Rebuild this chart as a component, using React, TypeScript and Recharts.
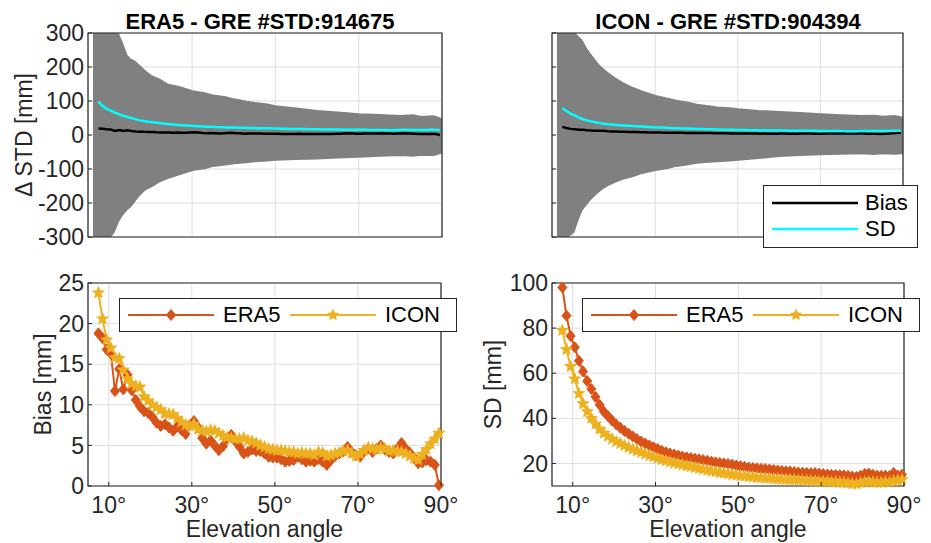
import React from "react";
import {
  ComposedChart,
  LineChart,
  Line,
  Area,
  XAxis,
  YAxis,
  CartesianGrid,
  Legend,
  ReferenceArea,
} from "recharts";

const FONT = "'Liberation Sans', Arial, Helvetica, sans-serif";
const ERA5_COLOR = "#D95319";
const ICON_COLOR = "#EDB120";
const AXIS_COLOR = "#262626";
const GRID_COLOR = "#DEDEDE";
const CLOUD_COLOR = "#808080";
const TICK_LEN = 4;

// elevation bin centres [deg]
const elevation = [
  7.5, 8.5, 9.5, 10.5, 11.5, 12.5, 13.5, 14.5, 15.5, 16.5, 17.5, 18.5, 19.5,
  20.5, 21.5, 22.5, 23.5, 24.5, 25.5, 26.5, 27.5, 28.5, 29.5, 30.5, 31.5, 32.5,
  33.5, 34.5, 35.5, 36.5, 37.5, 38.5, 39.5, 40.5, 41.5, 42.5, 43.5, 44.5, 45.5,
  46.5, 47.5, 48.5, 49.5, 50.5, 51.5, 52.5, 53.5, 54.5, 55.5, 56.5, 57.5, 58.5,
  59.5, 60.5, 61.5, 62.5, 63.5, 64.5, 65.5, 66.5, 67.5, 68.5, 69.5, 70.5, 71.5,
  72.5, 73.5, 74.5, 75.5, 76.5, 77.5, 78.5, 79.5, 80.5, 81.5, 82.5, 83.5, 84.5,
  85.5, 86.5, 87.5, 88.5, 89.5,
];

const era5Bias = [
  18.8, 18.2, 16.8, 16.3, 11.7, 14.4, 11.9, 13.7, 11.8, 10.6, 9.8, 9.2, 9.0,
  8.5, 7.8, 7.4, 7.6, 7.2, 6.8, 7.3, 6.9, 6.4, 7.5, 8.0, 7.2, 5.9,
  5.2, 5.6, 5.0, 4.4, 4.9, 5.8, 6.3, 5.5, 4.8, 4.0, 4.2, 4.5, 4.3,
  4.3, 4.0, 3.6, 3.5, 3.5, 3.3, 3.0, 3.1, 3.2, 3.6, 3.3, 3.0, 3.1,
  3.0, 3.3, 3.0, 2.6, 3.2, 3.7, 4.0, 4.3, 4.8, 4.2, 3.8, 3.6, 4.3,
  4.6, 4.2, 4.6, 5.0, 4.5, 4.2, 4.0, 4.6, 5.3, 4.6, 4.1, 3.5, 2.8,
  2.9, 3.2, 3.0, 2.6, 0.1,
];

const iconBias = [
  23.8, 20.6, 18.0, 17.0, 15.8, 15.7, 14.3, 13.2, 12.6, 12.3, 12.2, 11.0, 10.5,
  10.0, 9.7, 9.4, 8.9, 8.9, 8.8, 8.3, 7.9, 7.5, 7.4, 7.6, 7.0, 6.8,
  6.7, 6.9, 6.8, 6.5, 6.2, 6.0, 5.9, 5.8, 5.8, 5.9, 5.6, 5.5, 5.3,
  5.0, 4.8, 4.6, 4.5, 4.4, 4.4, 4.3, 4.2, 4.2, 4.0, 4.1, 4.0, 4.0,
  3.8, 4.2, 4.1, 3.7, 3.8, 4.0, 4.1, 4.3, 4.4, 4.0, 3.7, 3.9, 4.4,
  4.7, 4.6, 4.5, 4.7, 4.6, 4.3, 4.4, 4.3, 4.2, 4.0, 3.7, 3.4, 3.2,
  3.9, 4.5, 5.2, 5.8, 6.5,
];

const era5Sd = [
  98, 85.5, 76.5, 71.5, 65.5, 60.8, 56.5, 53, 49.5, 46, 43, 41, 39,
  37.3, 35.8, 34.4, 33.2, 32, 30.8, 29.7, 28.8, 28, 27.2, 26.4, 25.6, 25,
  24.4, 24, 23.5, 23.1, 22.7, 22.4, 22.1, 21.8, 21.5, 21.2, 20.8, 20.5, 20.2,
  20.0, 19.8, 19.5, 19.1, 18.8, 18.5, 18.2, 18.0, 17.8, 17.6, 17.5, 17.3, 17.1,
  16.9, 16.7, 16.5, 16.4, 16.2, 16.0, 15.9, 15.8, 15.7, 15.8, 15.5, 15.3, 15.1,
  15.0, 14.9, 14.8, 14.7, 14.5, 14.2, 14.0, 14.6, 15.3, 15.5, 15.0, 14.6, 14.5,
  14.6, 14.4, 15.8, 14.6, 15.0,
];

const iconSd = [
  79, 70.5, 63, 57.5, 51, 46.5, 43, 40, 37.5, 35.2, 33.4, 32, 30.8,
  29.7, 28.8, 27.9, 27.1, 26.3, 25.6, 24.9, 24.2, 23.5, 22.9, 22.3, 21.7, 21.2,
  20.7, 20.2, 19.8, 19.4, 19.0, 18.6, 18.2, 17.8, 17.4, 17.0, 16.6, 16.3, 16.0,
  15.7, 15.4, 15.1, 14.8, 14.6, 14.4, 14.2, 14.0, 13.8, 13.6, 13.5, 13.4, 13.2,
  13.1, 13.0, 12.9, 12.8, 12.7, 12.6, 12.5, 12.4, 12.3, 12.2, 12.1, 12.0, 11.9,
  11.8, 11.7, 11.6, 11.5, 11.3, 11.0, 10.9, 11.4, 11.8, 11.9, 11.7, 11.5, 11.6,
  11.8, 11.7, 12.2, 12.5, 12.8,
];

// outline of the single-difference point clouds (top panels)
const envElevation = [
  6.2, 8, 9, 10, 11, 12, 13, 14, 15, 16, 17, 18.5, 20, 22, 24, 27, 30, 33, 35,
  38, 40, 43, 45, 48, 50, 55, 60, 65, 70, 75, 80, 83, 85, 88, 90,
];
const era5Upper = [
  300, 300, 300, 300, 300, 296, 268, 233, 220, 214, 203, 186, 171, 161, 146, 138,
  126, 120, 113, 108, 102, 95, 91, 87, 82, 75, 68, 63, 58, 56, 53, 55, 50, 52, 43,
];
const era5Lower = [
  -300, -300, -300, -300, -283, -253, -233, -218, -208, -192, -176, -158, -149,
  -134, -124, -112, -100, -95, -88, -84, -80, -77, -74, -72, -70, -68, -66, -63,
  -61, -58, -56, -58, -55, -56, -48,
];
const iconUpper = [
  300, 300, 300, 300, 288, 276, 253, 236, 220, 205, 193, 178, 165, 150, 138, 124,
  112, 104, 98, 92, 86, 82, 78, 76, 73, 68, 65, 62, 58, 55, 53, 54, 51, 53, 48,
];
const iconLower = [
  -300, -300, -293, -283, -248, -218, -203, -188, -176, -165, -155, -144, -136,
  -126, -120, -108, -100, -94, -88, -83, -79, -76, -74, -72, -70, -65, -59, -56,
  -54, -52, -51, -53, -51, -52, -51,
];

const xTicks = [10, 30, 50, 70, 90];
const stdTicks = [-300, -200, -100, 0, 100, 200, 300];
const biasTicks = [0, 5, 10, 15, 20, 25];
const sdTicks = [20, 40, 60, 80, 100];

const lineData = elevation.map((e, i) => ({
  elev: e,
  era5Bias: era5Bias[i],
  iconBias: iconBias[i],
  era5Sd: era5Sd[i],
  iconSd: iconSd[i],
}));

const era5Cloud = envElevation.map((e, i) => ({
  elev: e,
  range: [era5Lower[i], era5Upper[i]],
}));
const iconCloud = envElevation.map((e, i) => ({
  elev: e,
  range: [iconLower[i], iconUpper[i]],
}));

const TICK_FONT = 23;
const labelStyle = {
  fill: AXIS_COLOR,
  fontSize: 23,
  fontFamily: FONT,
  textAnchor: "middle" as const,
};

// MATLAB-style inward ticks, drawn through custom tick renderers
const LeftTick = (props: any) => {
  const { x, y, payload, showLabel } = props;
  const edge = x + 4;
  return (
    <g>
      <line x1={edge} y1={y} x2={edge + TICK_LEN} y2={y} stroke={AXIS_COLOR} strokeWidth={1} />
      {showLabel && (
        <text
          x={x}
          y={y}
          dy="0.355em"
          textAnchor="end"
          fill={AXIS_COLOR}
          fontSize={TICK_FONT}
          fontFamily={FONT}
        >
          {payload.value}
        </text>
      )}
    </g>
  );
};

const RightTick = (props: any) => {
  const { x, y } = props;
  return <line x1={x} y1={y} x2={x - TICK_LEN} y2={y} stroke={AXIS_COLOR} strokeWidth={1} />;
};

const TopTick = (props: any) => {
  const { x, y } = props;
  return <line x1={x} y1={y} x2={x} y2={y + TICK_LEN} stroke={AXIS_COLOR} strokeWidth={1} />;
};

const BottomTick = (props: any) => {
  const { x, y, payload, showLabel } = props;
  const edge = y - 11;
  return (
    <g>
      <line x1={x} y1={edge} x2={x} y2={edge - TICK_LEN} stroke={AXIS_COLOR} strokeWidth={1} />
      {showLabel && (
        <text
          x={x}
          y={y}
          dy="0.71em"
          textAnchor="middle"
          fill={AXIS_COLOR}
          fontSize={TICK_FONT}
          fontFamily={FONT}
        >
          {`${payload.value}°`}
        </text>
      )}
    </g>
  );
};

const diamondPoints = (cx: number, cy: number) =>
  `${cx},${cy - 5.5} ${cx + 4.5},${cy} ${cx},${cy + 5.5} ${cx - 4.5},${cy}`;

const starPoints = (cx: number, cy: number, r: number) => {
  const pts: string[] = [];
  for (let k = 0; k < 10; k++) {
    const rad = k % 2 === 0 ? r : r * 0.45;
    const a = -Math.PI / 2 + (k * Math.PI) / 5;
    pts.push(`${cx + rad * Math.cos(a)},${cy + rad * Math.sin(a)}`);
  }
  return pts.join(" ");
};

const DiamondDot = (props: any) => {
  const { cx, cy, index } = props;
  if (cx == null || cy == null) return <g key={`d${index}`} />;
  return (
    <polygon
      key={`d${index}`}
      points={diamondPoints(cx, cy)}
      fill={ERA5_COLOR}
      stroke={ERA5_COLOR}
      strokeWidth={1}
    />
  );
};

const StarDot = (props: any) => {
  const { cx, cy, index } = props;
  if (cx == null || cy == null) return <g key={`s${index}`} />;
  return (
    <polygon
      key={`s${index}`}
      points={starPoints(cx, cy, 5.5)}
      fill={ICON_COLOR}
      stroke={ICON_COLOR}
      strokeWidth={1.2}
    />
  );
};

const ModelLegend = () => (
  <div
    style={{
      width: 338,
      height: 34,
      boxSizing: "border-box",
      border: `1.5px solid ${AXIS_COLOR}`,
      background: "#fff",
      display: "flex",
      alignItems: "center",
      fontFamily: FONT,
      fontSize: 22,
      color: "#000",
    }}
  >
    <svg width={86} height={20} style={{ marginLeft: 8 }}>
      <line x1={0} y1={10} x2={86} y2={10} stroke={ERA5_COLOR} strokeWidth={2} />
      <polygon points={diamondPoints(43, 10)} fill={ERA5_COLOR} stroke={ERA5_COLOR} />
    </svg>
    <span style={{ marginLeft: 9, width: 67 }}>ERA5</span>
    <svg width={86} height={20}>
      <line x1={0} y1={10} x2={86} y2={10} stroke={ICON_COLOR} strokeWidth={2} />
      <polygon points={starPoints(43, 10, 5.5)} fill={ICON_COLOR} stroke={ICON_COLOR} />
    </svg>
    <span style={{ marginLeft: 9 }}>ICON</span>
  </div>
);

const StatLegend = () => (
  <div
    style={{
      width: 155,
      height: 63,
      boxSizing: "border-box",
      border: `1.5px solid ${AXIS_COLOR}`,
      background: "#fff",
      fontFamily: FONT,
      fontSize: 22,
      color: "#000",
      paddingTop: 4,
    }}
  >
    <div style={{ display: "flex", alignItems: "center", height: 26 }}>
      <svg width={86} height={10} style={{ marginLeft: 8 }}>
        <line x1={0} y1={5} x2={86} y2={5} stroke="#000" strokeWidth={2.5} />
      </svg>
      <span style={{ marginLeft: 7 }}>Bias</span>
    </div>
    <div style={{ display: "flex", alignItems: "center", height: 26 }}>
      <svg width={86} height={10} style={{ marginLeft: 8 }}>
        <line x1={0} y1={5} x2={86} y2={5} stroke="#00FFFF" strokeWidth={2.5} />
      </svg>
      <span style={{ marginLeft: 7 }}>SD</span>
    </div>
  </div>
);

const titleStyle = (center: number): React.CSSProperties => ({
  position: "absolute",
  left: center - 200,
  width: 400,
  top: 11,
  height: 22,
  lineHeight: "22px",
  textAlign: "center",
  fontFamily: FONT,
  fontWeight: "bold",
  fontSize: 22,
  color: "#000",
  whiteSpace: "nowrap",
});

const Box = ({ y1, y2 }: { y1: number; y2: number }) => (
  <ReferenceArea
    x1={5}
    x2={90}
    y1={y1}
    y2={y2}
    fill="none"
    stroke={AXIS_COLOR}
    strokeWidth={1.2}
    ifOverflow="visible"
  />
);

// extra axes only carry the ticks on the top and right edges of each box
const frameAxes = (domain: [number, number], ticks: number[]) => [
  <XAxis
    key="xt"
    xAxisId="top"
    orientation="top"
    type="number"
    domain={[5, 90]}
    ticks={xTicks}
    interval={0}
    height={0}
    tickSize={0}
    tickMargin={0}
    axisLine={false}
    tickLine={false}
    tick={<TopTick />}
  />,
  <YAxis
    key="yr"
    yAxisId="right"
    orientation="right"
    type="number"
    domain={domain}
    ticks={ticks}
    interval={0}
    width={0}
    tickSize={0}
    tickMargin={0}
    axisLine={false}
    tickLine={false}
    tick={<RightTick />}
  />,
];

const App: React.FC = () => {
  return (
    <div
      style={{
        position: "absolute",
        left: 0,
        top: 0,
        width: 931,
        height: 543,
        background: "#fff",
        overflow: "hidden",
      }}
    >
      <div style={titleStyle(260)}>ERA5 - GRE #STD:914675</div>
      <div style={titleStyle(728)}>ICON - GRE #STD:904394</div>

      {/* top left: ERA5 - GRE */}
      <div style={{ position: "absolute", left: 0, top: 0 }}>
        <ComposedChart
          width={460}
          height={250}
          margin={{ top: 33, right: 18, bottom: 13, left: 0 }}
        >
          <CartesianGrid stroke={GRID_COLOR} />
          <XAxis
            type="number"
            dataKey="elev"
            domain={[5, 90]}
            ticks={xTicks}
            interval={0}
            tick={<BottomTick showLabel={false} />}
            tickLine={false}
            axisLine={false}
            tickSize={0}
            tickMargin={11}
            height={0}
            allowDataOverflow
          />
          <YAxis
            type="number"
            domain={[-300, 300]}
            ticks={stdTicks}
            interval={0}
            width={88}
            tick={<LeftTick showLabel />}
            tickLine={false}
            axisLine={false}
            tickSize={0}
            tickMargin={4}
            allowDataOverflow
            label={{
              value: "Δ STD [mm]",
              angle: -90,
              position: "insideLeft",
              offset: 24,
              style: labelStyle,
            }}
          />
          {frameAxes([-300, 300], stdTicks)}
          <Area
            data={era5Cloud}
            dataKey="range"
            type="linear"
            fill={CLOUD_COLOR}
            fillOpacity={1}
            stroke={CLOUD_COLOR}
            strokeWidth={4}
            isAnimationActive={false}
          />
          <Line
            data={lineData}
            dataKey="era5Bias"
            stroke="#000"
            strokeWidth={2.5}
            dot={false}
            isAnimationActive={false}
          />
          <Line
            data={lineData}
            dataKey="era5Sd"
            stroke="#00FFFF"
            strokeWidth={2.5}
            dot={false}
            isAnimationActive={false}
          />
          <Box y1={-300} y2={300} />
        </ComposedChart>
      </div>

      {/* top right: ICON - GRE */}
      <div style={{ position: "absolute", left: 460, top: 0 }}>
        <ComposedChart
          width={471}
          height={250}
          margin={{ top: 33, right: 28, bottom: 13, left: 0 }}
        >
          <CartesianGrid stroke={GRID_COLOR} />
          <XAxis
            type="number"
            dataKey="elev"
            domain={[5, 90]}
            ticks={xTicks}
            interval={0}
            tick={<BottomTick showLabel={false} />}
            tickLine={false}
            axisLine={false}
            tickSize={0}
            tickMargin={11}
            height={0}
            allowDataOverflow
          />
          <YAxis
            type="number"
            domain={[-300, 300]}
            ticks={stdTicks}
            interval={0}
            width={92}
            tick={<LeftTick showLabel={false} />}
            tickLine={false}
            axisLine={false}
            tickSize={0}
            tickMargin={4}
            allowDataOverflow
          />
          {frameAxes([-300, 300], stdTicks)}
          <Area
            data={iconCloud}
            dataKey="range"
            type="linear"
            fill={CLOUD_COLOR}
            fillOpacity={1}
            stroke={CLOUD_COLOR}
            strokeWidth={4}
            isAnimationActive={false}
          />
          <Line
            data={lineData}
            dataKey="iconBias"
            name="Bias"
            stroke="#000"
            strokeWidth={2.5}
            dot={false}
            isAnimationActive={false}
          />
          <Line
            data={lineData}
            dataKey="iconSd"
            name="SD"
            stroke="#00FFFF"
            strokeWidth={2.5}
            dot={false}
            isAnimationActive={false}
          />
          <Box y1={-300} y2={300} />
          <Legend
            layout="horizontal"
            verticalAlign="middle"
            align="center"
            content={() => <StatLegend />}
            wrapperStyle={{ position: "absolute", left: 303, top: 185, width: 155, height: 63 }}
          />
        </ComposedChart>
      </div>

      {/* bottom left: bias */}
      <div style={{ position: "absolute", left: 0, top: 250 }}>
        <LineChart
          width={460}
          height={293}
          data={lineData}
          margin={{ top: 33, right: 19, bottom: 6, left: 0 }}
        >
          <CartesianGrid stroke={GRID_COLOR} />
          <XAxis
            type="number"
            dataKey="elev"
            domain={[5, 90]}
            ticks={xTicks}
            interval={0}
            tick={<BottomTick showLabel />}
            tickLine={false}
            axisLine={false}
            tickSize={0}
            tickMargin={11}
            height={51}
            label={{
              value: "Elevation angle",
              position: "insideBottom",
              offset: 0,
              style: labelStyle,
            }}
          />
          <YAxis
            type="number"
            domain={[0, 25]}
            ticks={biasTicks}
            interval={0}
            width={88}
            tick={<LeftTick showLabel />}
            tickLine={false}
            axisLine={false}
            tickSize={0}
            tickMargin={4}
            label={{
              value: "Bias [mm]",
              angle: -90,
              position: "insideLeft",
              offset: 43,
              style: labelStyle,
            }}
          />
          {frameAxes([0, 25], biasTicks)}
          <Line
            dataKey="era5Bias"
            name="ERA5"
            stroke={ERA5_COLOR}
            strokeWidth={2}
            dot={DiamondDot}
            isAnimationActive={false}
          />
          <Line
            dataKey="iconBias"
            name="ICON"
            stroke={ICON_COLOR}
            strokeWidth={2}
            dot={StarDot}
            isAnimationActive={false}
          />
          <Box y1={0} y2={25} />
          <Legend
            layout="horizontal"
            verticalAlign="middle"
            align="center"
            content={() => <ModelLegend />}
            wrapperStyle={{ position: "absolute", left: 119, top: 48, width: 338, height: 34 }}
          />
        </LineChart>
      </div>

      {/* bottom right: SD */}
      <div style={{ position: "absolute", left: 460, top: 250 }}>
        <LineChart
          width={471}
          height={293}
          data={lineData}
          margin={{ top: 33, right: 27, bottom: 6, left: 0 }}
        >
          <CartesianGrid stroke={GRID_COLOR} />
          <XAxis
            type="number"
            dataKey="elev"
            domain={[5, 90]}
            ticks={xTicks}
            interval={0}
            tick={<BottomTick showLabel />}
            tickLine={false}
            axisLine={false}
            tickSize={0}
            tickMargin={11}
            height={51}
            label={{
              value: "Elevation angle",
              position: "insideBottom",
              offset: 0,
              style: labelStyle,
            }}
          />
          <YAxis
            type="number"
            domain={[10, 100]}
            ticks={sdTicks}
            interval={0}
            width={92}
            tick={<LeftTick showLabel />}
            tickLine={false}
            axisLine={false}
            tickSize={0}
            tickMargin={4}
            label={{
              value: "SD [mm]",
              angle: -90,
              position: "insideLeft",
              offset: 33,
              style: labelStyle,
            }}
          />
          {frameAxes([10, 100], sdTicks)}
          <Line
            dataKey="era5Sd"
            name="ERA5"
            stroke={ERA5_COLOR}
            strokeWidth={2}
            dot={DiamondDot}
            isAnimationActive={false}
          />
          <Line
            dataKey="iconSd"
            name="ICON"
            stroke={ICON_COLOR}
            strokeWidth={2}
            dot={StarDot}
            isAnimationActive={false}
          />
          <Box y1={10} y2={100} />
          <Legend
            layout="horizontal"
            verticalAlign="middle"
            align="center"
            content={() => <ModelLegend />}
            wrapperStyle={{ position: "absolute", left: 122, top: 48, width: 338, height: 34 }}
          />
        </LineChart>
      </div>
    </div>
  );
};

export default App;
